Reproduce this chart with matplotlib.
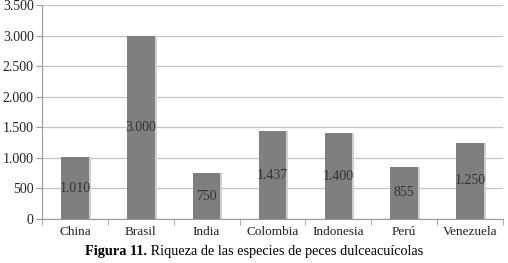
import matplotlib
matplotlib.use("Agg")
import matplotlib.pyplot as plt
import numpy as np

countries = ["China", "Brasil", "India", "Colombia", "Indonesia", "Perú", "Venezuela"]
species = [1010, 3000, 750, 1437, 1400, 855, 1250]
value_labels = ["1.010", "3.000", "750", "1.437", "1.400", "855", "1.250"]
yticks = [0, 500, 1000, 1500, 2000, 2500, 3000, 3500]
ytick_labels = ["0", "500", "1.000", "1.500", "2.000", "2.500", "3.000", "3.500"]

plt.rcParams["font.family"] = ["Liberation Serif", "DejaVu Serif"]

fig = plt.figure(figsize=(5.08, 2.63), dpi=100)
ax = fig.add_axes([42 / 508, 1 - 219 / 263, (503 - 42) / 508, (219 - 5) / 263])

x = np.arange(len(countries))
ax.bar(x + 0.03, species, width=0.42, color="#cfcfcf", zorder=2)  # faint shadow
ax.bar(x, species, width=0.42, color="#7f7f7f", zorder=3)
for xi, v, lab in zip(x, species, value_labels):
    ax.text(xi, v / 2, lab, ha="center", va="center", fontsize=10, color="#333333", zorder=4)

ax.set_xlim(-0.5, len(countries) - 0.5)
ax.set_ylim(0, 3500)
ax.set_yticks(yticks)
ax.set_yticklabels(ytick_labels, fontsize=10, color="#222222")
ax.set_xticks(x)
ax.set_xticklabels(countries, fontsize=9.5, color="#222222")
ax.set_xticks(np.arange(len(countries) + 1) - 0.5, minor=True)
ax.tick_params(axis="x", which="major", length=0, pad=5)
ax.tick_params(axis="x", which="minor", length=4, color="#999999")
ax.tick_params(axis="y", length=4, color="#999999", pad=2)
ax.yaxis.grid(True, color="#c4c4c4", lw=0.9, zorder=0)
for s in ("top", "right"):
    ax.spines[s].set_visible(False)
for s in ("left", "bottom"):
    ax.spines[s].set_color("#999999")

fig.canvas.draw()
r = fig.canvas.get_renderer()
t1 = fig.text(0, 0, "Figura 11.", fontsize=10.3, weight="bold")
t2 = fig.text(0, 0, " Riqueza de las especies de peces dulceacuícolas", fontsize=10.3)
w1 = t1.get_window_extent(r).width
w2 = t2.get_window_extent(r).width
x0 = 254 - (w1 + w2) / 2
yc = 1 - 252 / 263
t1.set_position((x0 / 508, yc)); t1.set_va("center")
t2.set_position(((x0 + w1) / 508, yc)); t2.set_va("center")

fig.savefig("out.png", dpi=100)
